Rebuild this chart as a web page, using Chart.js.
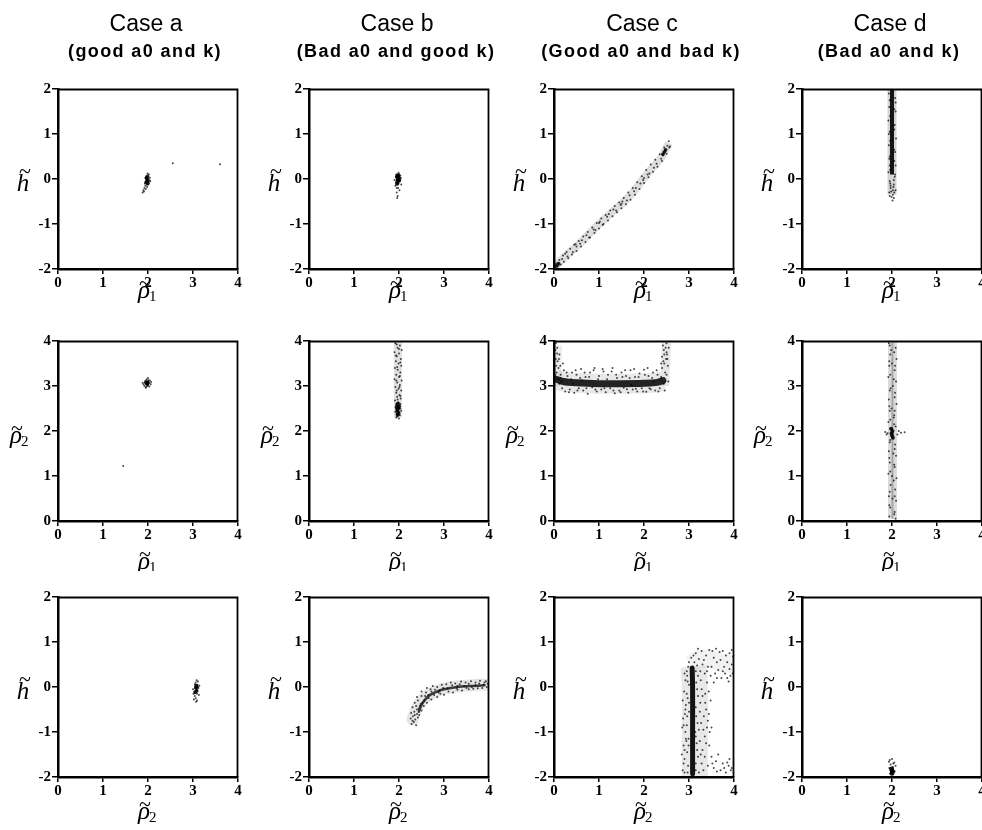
<!DOCTYPE html>
<html><head><meta charset="utf-8">
<script src="https://cdn.jsdelivr.net/npm/chart.js@4.4.0/dist/chart.umd.min.js"></script>
<style>
body{margin:0;width:982px;height:830px;overflow:hidden;background:#fff;position:relative}
canvas{position:absolute}
</style>
</head><body>
<script>
// ---------------- DATA ----------------
const caseTitles = ["Case a","Case b","Case c","Case d"];
const caseSubtitles = ["(good a0 and k)","(Bad a0 and good k)","(Good a0 and bad k)","(Bad a0 and k)"];
const xTicks = [0,1,2,3,4];
const rowYRange = [[-2,2],[0,4],[-2,2]];
const rowXSym = [["\u03C1","1"],["\u03C1","1"],["\u03C1","2"]];
const rowYSym = [["h",""],["\u03C1","2"],["h",""]];

// Case a
const a1Dots = [[1.97,0.02],[1.99,-0.03],[2.01,0.05],[1.95,-0.08],[2.0,-0.12],[1.98,0.08],[2.03,-0.02],[1.96,0.0],[1.94,-0.15],[1.92,-0.2],[1.9,-0.25],[1.88,-0.3],[1.97,-0.06],[2.02,0.1],[1.99,0.12],[2.04,0.03],[1.93,-0.1],[1.98,-0.18],[2.0,0.0],[1.96,0.06],[1.95,-0.22],[1.91,-0.28],[2.01,-0.08],[1.99,0.04],[1.97,-0.13],[2.05,-0.05],[1.94,0.02],[2.0,0.07],[1.98,-0.01],[1.96,-0.04],[2.55,0.35],[3.6,0.33]];
const a1Core = [[1.98,0.0],[1.99,-0.05],[1.97,0.03],[2.0,-0.1],[1.96,-0.07]];
const a2Dots = [[1.95,3.05],[1.98,3.1],[2.0,3.02],[1.93,3.08],[2.02,3.06],[1.97,3.15],[1.96,2.98],[2.04,3.12],[1.9,3.04],[1.99,3.0],[2.01,3.13],[1.94,3.11],[2.06,3.04],[1.92,3.0],[1.97,3.07],[2.0,3.18],[1.95,2.96],[2.03,2.99],[1.88,3.07],[2.07,3.09],[1.45,1.22]];
const a2Core = [[1.97,3.06],[1.99,3.08],[1.96,3.09],[1.98,3.04],[2.0,3.07]];
const a3Dots = [[3.05,0.0],[3.08,-0.05],[3.1,0.05],[3.03,-0.1],[3.12,-0.02],[3.06,0.1],[3.04,-0.2],[3.09,-0.15],[3.02,-0.28],[3.11,0.12],[3.07,-0.33],[3.14,0.03],[3.0,-0.05],[3.06,-0.25],[3.1,-0.1],[3.13,-0.18],[3.04,0.06],[3.08,0.15],[3.01,-0.15],[3.09,-0.3]];
const a3Core = [[3.06,-0.02],[3.08,-0.08],[3.07,0.03],[3.05,-0.12],[3.09,0.0]];

// Case b
const b1Dots = [[1.93,0.05],[1.96,-0.1],[2.0,0.1],[1.98,-0.2],[1.95,-0.3],[2.02,-0.05],[1.92,-0.15],[1.99,0.14],[2.04,0.02],[1.97,-0.38],[1.94,0.1],[2.01,-0.25],[1.9,-0.02],[2.03,0.08],[1.96,-0.42],[1.98,0.0],[2.05,-0.12],[1.95,-0.2]];
const b1Core = [[1.96,0.05],[1.98,0.0],[1.97,-0.05],[1.99,0.03],[1.96,-0.1],[2.0,-0.02],[1.98,0.08]];
const b2Dots = [[1.92,3.95],[2.02,3.9],[1.97,3.85],[2.06,3.8],[1.9,3.75],[2.0,3.72],[1.95,3.66],[2.04,3.6],[1.93,3.55],[1.99,3.5],[2.05,3.45],[1.91,3.4],[1.97,3.36],[2.03,3.3],[1.94,3.25],[2.0,3.2],[1.9,3.15],[2.06,3.12],[1.96,3.08],[2.02,3.02],[1.92,2.98],[1.99,2.94],[2.05,2.9],[1.94,2.85],[2.01,2.8],[1.96,2.76],[2.04,2.72],[1.91,2.68],[1.98,2.64],[2.03,2.6],[1.93,2.56],[2.0,2.52],[1.95,2.48],[2.05,2.45],[1.92,2.42],[1.98,2.38],[2.02,2.35],[1.96,2.32],[1.94,2.3],[2.0,2.28]];
const b2DotsB = [[1.95,3.92],[2.0,3.82],[1.93,3.68],[2.03,3.52],[1.96,3.42],[2.02,3.22],[1.94,3.12],[2.01,2.98],[1.95,2.9],[2.03,2.78],[1.97,2.7],[2.0,2.62],[1.94,2.6],[2.03,2.5],[1.99,2.44],[1.95,2.38]];
const b2Core = [[1.97,2.6],[1.98,2.5],[1.96,2.45],[1.99,2.4],[1.97,2.36],[2.0,2.55],[1.95,2.52]];
const b2Ridge = [[1.975,2.3],[1.975,3.97]];
const b3Dots = [[2.28,-0.82],[2.33,-0.78],[2.38,-0.85],[2.26,-0.7],[2.31,-0.65],[2.36,-0.72],[2.42,-0.68],[2.27,-0.58],[2.34,-0.55],[2.4,-0.6],[2.45,-0.62],[2.3,-0.45],[2.38,-0.42],[2.44,-0.48],[2.5,-0.52],[2.35,-0.35],[2.42,-0.3],[2.48,-0.38],[2.55,-0.42],[2.4,-0.22],[2.5,-0.2],[2.56,-0.3],[2.62,-0.35],[2.5,-0.1],[2.6,-0.12],[2.66,-0.25],[2.72,-0.28],[2.62,-0.02],[2.7,-0.05],[2.78,-0.18],[2.85,-0.22],[2.75,0.02],[2.85,0.0],[2.92,-0.15],[3.0,-0.17],[2.95,0.05],[3.05,0.06],[3.1,-0.1],[3.2,-0.12],[3.15,0.1],[3.25,0.08],[3.3,-0.06],[3.4,-0.08],[3.38,0.12],[3.48,0.1],[3.55,-0.05],[3.6,0.13],[3.65,-0.04],[3.7,0.1],[3.75,-0.03],[3.8,0.14],[3.85,-0.02],[3.9,0.1],[3.95,0.0],[3.93,0.13],[3.45,0.02],[3.7,0.04],[3.3,0.03],[2.9,-0.08],[3.55,0.07]];
const b3DotsB = [[2.3,-0.75],[2.35,-0.62],[2.4,-0.5],[2.46,-0.42],[2.52,-0.35],[2.58,-0.2],[2.65,-0.18],[2.72,-0.1],[2.8,-0.06],[2.88,-0.12],[2.98,-0.02],[3.08,-0.03],[3.18,0.04],[3.28,-0.02],[3.35,0.06],[3.5,-0.02],[3.62,0.0],[3.78,0.08],[3.88,0.05],[3.97,0.07]];
const b3Ridge = [[2.3,-0.72],[2.36,-0.55],[2.42,-0.44],[2.5,-0.32],[2.6,-0.22],[2.7,-0.15],[2.8,-0.1],[3.0,-0.04],[3.2,0.0],[3.5,0.03],[3.8,0.05],[3.97,0.05]];
const b3Core = [[2.44,-0.55],[2.5,-0.4],[2.58,-0.28],[2.7,-0.17],[2.85,-0.1],[3.0,-0.05],[3.3,0.0],[3.6,0.02],[3.9,0.04]];

// Case c
const c1Dots = [[0.02,-1.98],[0.05,-1.88],[0.08,-1.95],[0.12,-1.8],[0.15,-1.9],[0.2,-1.7],[0.22,-1.84],[0.28,-1.62],[0.32,-1.76],[0.36,-1.55],[0.4,-1.68],[0.45,-1.46],[0.5,-1.6],[0.55,-1.38],[0.6,-1.5],[0.65,-1.28],[0.7,-1.4],[0.75,-1.18],[0.8,-1.3],[0.85,-1.08],[0.9,-1.2],[0.95,-0.98],[1.0,-1.1],[1.05,-0.88],[1.1,-1.0],[1.15,-0.8],[1.2,-0.92],[1.25,-0.7],[1.3,-0.83],[1.35,-0.6],[1.4,-0.74],[1.45,-0.52],[1.5,-0.65],[1.55,-0.42],[1.6,-0.56],[1.65,-0.3],[1.7,-0.46],[1.75,-0.2],[1.8,-0.35],[1.85,-0.07],[1.9,-0.22],[1.95,0.06],[2.0,-0.09],[2.05,0.2],[2.1,0.04],[2.15,0.32],[2.2,0.16],[2.25,0.43],[2.3,0.27],[2.35,0.55],[2.4,0.4],[2.45,0.7],[2.5,0.56],[2.55,0.84],[2.58,0.72],[2.48,0.62],[1.0,-0.98],[1.5,-0.55],[2.0,0.02],[0.5,-1.5]];
const c1DotsB = [[0.1,-1.92],[0.18,-1.78],[0.25,-1.66],[0.3,-1.72],[0.42,-1.62],[0.48,-1.45],[0.58,-1.44],[0.62,-1.36],[0.72,-1.25],[0.78,-1.3],[0.88,-1.12],[0.92,-1.14],[1.02,-0.95],[1.08,-1.02],[1.18,-0.84],[1.22,-0.78],[1.32,-0.68],[1.38,-0.7],[1.48,-0.58],[1.52,-0.5],[1.62,-0.48],[1.68,-0.36],[1.78,-0.27],[1.82,-0.2],[1.92,-0.1],[1.98,-0.02],[2.08,0.1],[2.12,0.12],[2.22,0.25],[2.28,0.34],[2.38,0.45],[2.42,0.52],[2.52,0.74],[2.56,0.7]];
const c1Ridge = [[0.0,-1.97],[0.27,-1.7],[0.5,-1.5],[1.0,-1.0],[1.5,-0.55],[1.75,-0.3],[2.1,0.15],[2.4,0.5],[2.55,0.8]];
const c1Core = [[0.0,-1.98],[0.05,-1.93],[0.1,-1.88],[2.42,0.55],[2.45,0.6],[2.48,0.65]];
const c2Dots = [[0.06,3.3],[0.1,3.4],[0.08,3.55],[0.12,3.7],[0.07,3.85],[0.15,3.25],[0.18,2.95],[0.22,3.35],[0.25,2.88],[0.3,3.22],[0.35,2.92],[0.4,3.3],[0.45,2.85],[0.5,3.25],[0.55,2.95],[0.6,3.38],[0.65,2.9],[0.7,3.2],[0.75,2.83],[0.8,3.3],[0.85,2.97],[0.9,3.4],[0.95,2.88],[1.0,3.22],[1.05,2.92],[1.1,3.32],[1.15,2.86],[1.2,3.25],[1.25,2.95],[1.3,3.4],[1.35,2.84],[1.4,3.18],[1.45,2.9],[1.5,3.3],[1.55,2.96],[1.6,3.22],[1.65,2.85],[1.7,3.35],[1.75,2.92],[1.8,3.2],[1.85,2.88],[1.9,3.28],[1.95,2.95],[2.0,3.36],[2.05,2.87],[2.1,3.22],[2.15,2.93],[2.2,3.3],[2.25,2.9],[2.3,3.25],[2.35,2.95],[2.4,3.4],[2.43,3.55],[2.45,3.7],[2.48,3.85],[2.5,3.95],[2.52,3.6],[2.47,3.3],[2.5,3.75],[2.42,3.9],[2.38,3.5],[2.53,3.45],[2.46,2.9],[0.04,3.6],[0.1,3.15],[0.2,3.5],[0.04,3.95],[0.14,3.45]];
const c2DotsB = [[0.12,3.05],[0.28,3.3],[0.33,2.86],[0.38,3.15],[0.48,3.35],[0.52,2.9],[0.58,3.18],[0.68,3.3],[0.72,2.95],[0.78,3.2],[0.88,3.35],[0.92,2.92],[0.98,3.15],[1.08,3.38],[1.12,2.95],[1.18,3.15],[1.28,3.32],[1.32,2.9],[1.38,3.25],[1.48,2.86],[1.52,3.2],[1.58,3.35],[1.62,2.93],[1.68,3.18],[1.78,3.38],[1.82,2.94],[1.88,3.2],[1.98,2.88],[2.02,3.25],[2.08,3.4],[2.12,2.95],[2.18,3.18],[2.28,3.35],[2.32,2.88],[2.38,3.2],[2.44,3.05],[2.5,3.25],[2.54,3.1],[0.03,3.25],[0.05,3.45],[0.07,3.72],[0.11,3.6],[0.03,3.8],[2.45,3.5],[2.51,3.7],[2.44,3.8],[2.55,3.85],[2.49,3.6],[2.4,3.65],[0.17,3.1],[0.42,3.05],[0.62,3.12],[1.72,3.02],[2.22,3.1]];
const c2Ridge = [[0.05,3.15],[0.2,3.1],[0.5,3.07],[1.0,3.05],[1.5,3.05],[2.0,3.06],[2.3,3.08],[2.42,3.12]];
const c2LeftRidge = [[0.08,3.0],[0.09,3.5],[0.1,3.9]];
const c2RightRidge = [[2.46,3.0],[2.48,3.5],[2.5,3.97]];
const c3Dots = [[2.86,-1.85],[2.9,-1.6],[2.88,-1.3],[2.92,-1.0],[2.87,-0.7],[2.93,-0.4],[2.89,-0.1],[2.92,0.15],[2.95,0.35],[2.98,-1.75],[2.96,-1.45],[2.99,-1.15],[2.95,-0.85],[3.0,-0.55],[2.97,-0.25],[3.0,0.05],[2.98,0.45],[2.9,-1.9],[2.84,-1.5],[2.85,-0.9],[2.86,-0.3],[2.94,-1.2],[2.91,-0.6],[2.96,0.25],[3.0,0.55],[3.15,-1.85],[3.2,-1.55],[3.17,-1.25],[3.22,-0.95],[3.16,-0.65],[3.25,-0.35],[3.18,-0.05],[3.2,0.25],[3.28,-1.7],[3.3,-1.4],[3.35,-1.1],[3.27,-0.8],[3.38,-0.5],[3.3,-0.2],[3.4,0.1],[3.42,-1.75],[3.45,-1.3],[3.4,-0.9],[3.44,-0.6],[3.36,-0.15],[3.14,-1.0],[3.24,-1.2],[3.33,-0.65],[3.48,-0.3],[3.46,-1.0],[3.05,0.65],[3.12,0.55],[3.15,0.75],[3.22,0.62],[3.28,0.8],[3.3,0.5],[3.38,0.7],[3.45,0.82],[3.5,0.45],[3.55,0.65],[3.6,0.85],[3.65,0.38],[3.7,0.6],[3.75,0.8],[3.8,0.3],[3.85,0.55],[3.9,0.75],[3.95,0.5],[3.92,0.25],[3.58,0.3],[3.48,0.25],[3.72,0.2],[3.88,0.12],[3.25,0.35],[3.35,0.3],[3.98,0.68],[3.55,-1.8],[3.6,-1.65],[3.7,-1.85],[3.75,-1.7],[3.82,-1.9],[3.88,-1.75],[3.93,-1.85],[3.65,-1.5],[3.5,-1.55],[3.9,-1.6]];
const c3DotsB = [[2.88,-1.7],[2.9,-1.4],[2.93,-1.15],[2.88,-0.85],[2.92,-0.5],[2.95,-0.15],[2.9,0.3],[2.97,-1.9],[2.99,-1.3],[2.96,-0.65],[3.0,-0.35],[2.97,0.12],[3.15,-1.7],[3.18,-1.4],[3.15,-1.1],[3.19,-0.8],[3.15,-0.45],[3.2,-0.2],[3.16,0.1],[3.15,0.35],[3.22,-1.9],[3.26,-1.5],[3.24,-0.55],[3.28,-0.05],[3.26,0.15],[3.32,-1.85],[3.35,-1.55],[3.32,-0.95],[3.36,-0.35],[3.38,-1.25],[3.42,-0.75],[3.44,-0.1],[3.5,-0.9],[3.52,-1.7],[3.62,-1.88],[3.78,-1.8],[3.85,-1.68],[3.95,-1.8],[3.1,0.7],[3.18,0.48],[3.33,0.6],[3.42,0.45],[3.52,0.8],[3.62,0.55],[3.68,0.78],[3.78,0.45],[3.82,0.7],[3.9,0.4],[3.95,0.82],[3.62,0.2],[3.75,0.35],[3.85,0.2],[3.4,0.35],[3.2,0.85],[3.97,0.3],[3.55,0.1]];
const c3Ridge = [[3.08,-1.93],[3.08,-1.0],[3.08,0.0],[3.07,0.42]];
const c3Band = [[3.13,-1.98],[3.13,-1.0],[3.13,0.0],[3.1,0.45]];
const c3Arch = [[3.05,0.5],[3.2,0.62],[3.45,0.62],[3.7,0.55],[3.99,0.5]];

// Case d
const d1Dots = [[1.93,1.9],[2.07,1.8],[1.94,1.6],[2.08,1.5],[1.92,1.3],[2.06,1.2],[1.95,1.05],[2.09,0.9],[1.93,0.75],[2.07,0.6],[1.94,0.45],[2.08,0.3],[1.92,0.15],[2.06,0.05],[1.95,-0.05],[2.04,-0.12],[1.97,-0.2],[2.08,-0.25],[1.94,-0.3],[2.02,-0.35],[1.99,-0.4],[2.05,-0.3],[1.96,-0.1],[2.01,-0.48],[1.93,1.0],[2.08,1.7],[1.95,0.3],[2.07,0.1],[1.98,-0.28],[2.03,-0.18]];
const d1DotsB = [[1.95,1.75],[2.05,1.55],[1.96,1.4],[2.05,1.1],[1.96,0.85],[2.05,0.65],[1.95,0.5],[2.05,0.4],[1.96,0.2],[2.04,-0.02],[1.97,-0.15],[2.02,-0.25],[1.95,-0.38],[2.04,-0.42]];
const d1Ridge = [[2.0,2.0],[2.0,1.0],[2.0,0.0],[2.0,-0.35]];
const d1Core = [[2.0,2.0],[2.0,1.0],[2.0,0.1]];
const d2Dots = [[1.93,3.95],[2.08,3.85],[1.96,3.7],[2.1,3.6],[1.94,3.45],[2.06,3.35],[1.92,3.2],[2.09,3.1],[1.97,2.95],[2.07,2.85],[1.93,2.7],[2.1,2.6],[1.95,2.45],[2.05,2.35],[1.92,2.2],[2.08,2.1],[1.85,1.98],[1.9,1.95],[2.2,1.96],[2.28,1.97],[2.12,1.92],[1.96,1.8],[2.07,1.7],[1.93,1.55],[2.09,1.45],[1.95,1.3],[2.06,1.2],[1.92,1.05],[2.1,0.95],[1.97,0.8],[2.07,0.7],[1.93,0.55],[2.09,0.45],[1.96,0.3],[2.06,0.2],[1.94,0.1],[2.08,0.05],[2.0,3.5],[2.02,3.0],[1.99,2.5],[2.03,1.5],[2.0,1.0],[2.01,0.5],[2.04,2.3],[1.98,3.8]];
const d2DotsB = [[1.95,3.9],[2.05,3.75],[1.94,3.55],[2.07,3.45],[1.96,3.25],[2.04,3.15],[1.95,2.9],[2.06,2.75],[1.94,2.55],[2.06,2.45],[1.96,2.25],[2.05,2.15],[1.95,1.75],[2.06,1.6],[1.94,1.4],[2.05,1.25],[1.96,1.1],[2.04,0.9],[1.95,0.65],[2.06,0.55],[1.94,0.35],[2.05,0.15],[2.15,2.0],[1.88,1.92]];
const d2Ridge = [[2.01,0.05],[2.01,2.0],[2.01,3.97]];
const d2Core = [[1.99,1.95],[2.01,2.0],[2.0,1.9],[2.02,1.85],[1.98,2.05]];
const d3Dots = [[1.95,-1.62],[2.0,-1.6],[2.05,-1.68],[1.97,-1.72],[2.08,-1.75],[1.94,-1.8],[2.02,-1.78],[1.99,-1.9],[2.06,-1.88],[1.96,-1.92],[2.03,-1.7],[1.93,-1.66],[2.01,-1.84]];
const d3Core = [[2.0,-1.85],[2.01,-1.88],[1.99,-1.82],[2.0,-1.92]];

// ---------------- LAYOUT ----------------
const PLOT = 180, L = 60, R = 14, B = 50;
const colLeft = [58, 309, 554, 802];
const rowTop = [89, 341, 597];
const rowT = [89, 24, 24];
const xTitleOff = [24, 43, 37];

const P = a => a.map(p => ({x:p[0], y:p[1]}));
function dots(d){return {data:P(d), pointRadius:1, pointBackgroundColor:'rgba(0,0,0,0.72)', pointBorderWidth:0, showLine:false, order:1};}
function core(d,r){return {data:P(d), pointRadius:r, pointBackgroundColor:'rgba(0,0,0,0.9)', pointBorderWidth:0, showLine:false, order:0};}
function ridge(d,w,c,o,cap){return {data:P(d), showLine:true, pointRadius:0, borderWidth:w, borderColor:c, tension:0.35, borderCapStyle:cap||'butt', borderJoinStyle:'round', fill:false, order:(o===undefined?2:o)};}

const panels = [
  [ [dots(a1Dots), core(a1Core,1.8)],
    [dots(b1Dots), core(b1Core,2.2)],
    [ridge(c1Ridge,8,'rgba(0,0,0,0.13)'), dots(c1Dots), dots(c1DotsB), core(c1Core,1.8)],
    [ridge(d1Ridge,9,'rgba(0,0,0,0.17)'), dots(d1Dots), dots(d1DotsB), ridge(d1Core,4,'rgba(0,0,0,0.9)',0)] ],
  [ [dots(a2Dots), core(a2Core,1.8)],
    [ridge(b2Ridge,8,'rgba(0,0,0,0.12)'), dots(b2Dots), dots(b2DotsB), core(b2Core,2)],
    [ridge(c2Ridge,20,'rgba(0,0,0,0.09)'), ridge(c2LeftRidge,7,'rgba(0,0,0,0.08)'), ridge(c2RightRidge,9,'rgba(0,0,0,0.1)'), dots(c2Dots), dots(c2DotsB), ridge(c2Ridge,7,'rgba(0,0,0,0.85)',0,'round')],
    [ridge(d2Ridge,9,'rgba(0,0,0,0.14)'), ridge(d2Ridge,2,'rgba(0,0,0,0.25)',1), dots(d2Dots), dots(d2DotsB), core(d2Core,2)] ],
  [ [dots(a3Dots), core(a3Core,1.8)],
    [ridge(b3Ridge,12,'rgba(0,0,0,0.1)',2,'round'), dots(b3Dots), dots(b3DotsB), ridge(b3Core,2.5,'rgba(0,0,0,0.75)',0,'round')],
    [ridge(c3Band,26,'rgba(0,0,0,0.09)'), ridge(c3Arch,18,'rgba(0,0,0,0.05)'), dots(c3Dots), dots(c3DotsB), ridge(c3Ridge,5,'rgba(0,0,0,0.92)',0,'round')],
    [dots(d3Dots), core(d3Core,2.4)] ]
];

function drawSym(ctx, sym, sub, cx, baseline){
  ctx.fillStyle = '#000';
  ctx.font = 'italic 25px "Liberation Serif"';
  ctx.textAlign = 'center'; ctx.textBaseline = 'alphabetic';
  const w = ctx.measureText(sym).width;
  ctx.fillText(sym, cx, baseline);
  ctx.font = '22px "Liberation Serif"';
  ctx.textBaseline = 'middle';
  ctx.fillText('~', cx + (sym === 'h' ? 2 : 1), baseline - (sym === 'h' ? 19 : 14));
  if (sub){
    ctx.font = '15px "Liberation Serif"';
    ctx.textAlign = 'left'; ctx.textBaseline = 'alphabetic';
    ctx.fillText(sub, cx + w/2 - 1, baseline + 3);
  }
}

const textPlugin = {
  id: 'txt',
  afterDraw(chart){
    const o = chart.options.plugins.txt;
    const ctx = chart.ctx, a = chart.chartArea;
    ctx.save();
    ctx.strokeStyle = '#000'; ctx.lineWidth = 1.8;
    ctx.beginPath(); ctx.moveTo(a.left, a.top + 0.5); ctx.lineTo(a.right - 0.5, a.top + 0.5); ctx.lineTo(a.right - 0.5, a.bottom); ctx.stroke();
    const cx = (a.left + a.right) / 2;
    drawSym(ctx, o.xs[0], o.xs[1], cx - 4, a.bottom + o.xOff + 5);
    const yx = a.left - (o.ys[1] ? 42 : 35);
    drawSym(ctx, o.ys[0], o.ys[1], yx, (a.top + a.bottom) / 2 + 12);
    if (o.title){
      ctx.fillStyle = '#000'; ctx.textAlign = 'center'; ctx.textBaseline = 'alphabetic';
      ctx.font = '23px "Liberation Sans"';
      ctx.fillText(o.title, cx - 2, 31);
      ctx.font = 'bold 18px "Liberation Sans"';
      ctx.letterSpacing = '1.4px';
      ctx.fillText(o.sub, cx - 3, 57);
      ctx.letterSpacing = '0px';
    }
    ctx.restore();
  }
};

const tickFont = {family:'"Liberation Serif"', weight:'bold', size:15};
for (let r = 0; r < 3; r++){
  for (let c = 0; c < 4; c++){
    const T = rowT[r];
    const cv = document.createElement('canvas');
    const W = L + PLOT + R, H = T + PLOT + B;
    cv.width = W; cv.height = H;
    cv.style.left = (colLeft[c] - L) + 'px';
    cv.style.top = (rowTop[r] - T) + 'px';
    cv.style.width = W + 'px'; cv.style.height = H + 'px';
    document.body.appendChild(cv);
    new Chart(cv, {
      type: 'scatter',
      data: { datasets: panels[r][c] },
      options: {
        responsive: false, animation: false, devicePixelRatio: 1,
        layout: { padding: { left: 0, right: R, top: T, bottom: 0 } },
        plugins: {
          legend: { display: false }, tooltip: { enabled: false },
          txt: { xs: rowXSym[r], ys: rowYSym[r], xOff: xTitleOff[r],
                 title: r === 0 ? caseTitles[c] : null, sub: caseSubtitles[c] }
        },
        scales: {
          x: { type: 'linear', min: xTicks[0], max: xTicks[xTicks.length-1],
               afterBuildTicks: s => { s.ticks = xTicks.map(v => ({value: v})); },
               ticks: { font: tickFont, color: '#000', padding: 0, maxRotation: 0, autoSkip: false },
               grid: { drawOnChartArea: false, drawTicks: true, tickLength: 5, color: '#000', lineWidth: 1.5 },
               border: { display: true, color: '#000', width: 2.5 },
               afterFit: s => { s.height = B; s.paddingLeft = 0; s.paddingRight = 0; } },
          y: { type: 'linear', min: rowYRange[r][0], max: rowYRange[r][1],
               ticks: { stepSize: 1, font: tickFont, color: '#000', padding: 1 },
               grid: { drawOnChartArea: false, drawTicks: true, tickLength: 6, color: '#000', lineWidth: 1.5 },
               border: { display: true, color: '#000', width: 2.5 },
               afterFit: s => { s.width = L; s.paddingTop = 0; s.paddingBottom = 0; } }
        }
      },
      plugins: [textPlugin]
    });
  }
}
</script>
</body></html>
